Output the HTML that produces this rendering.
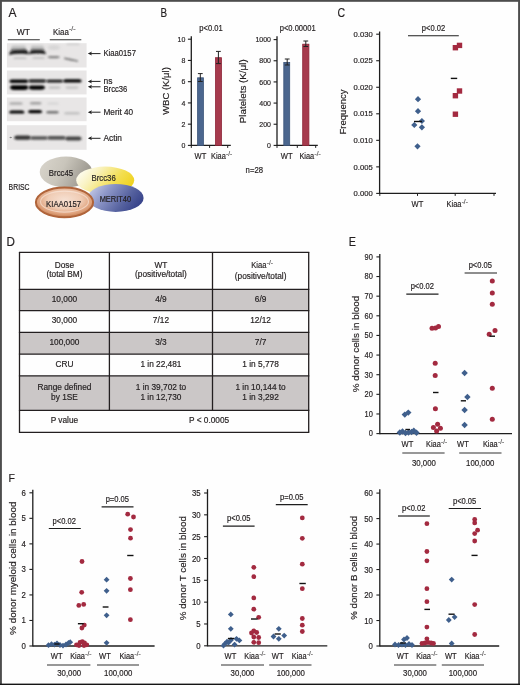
<!DOCTYPE html><html><head><meta charset="utf-8"><style>html,body{margin:0;padding:0;background:#fff;}svg{display:block;will-change:transform;}text{stroke:#231f20;stroke-width:0.18px;}</style></head><body>
<svg width="520" height="685" viewBox="0 0 520 685" font-family='"Liberation Sans", sans-serif'>
<defs>
<filter id="bl0" x="-20%" y="-100%" width="140%" height="300%"><feGaussianBlur stdDeviation="0.7"/></filter>
<linearGradient id="halo" x1="0" y1="0" x2="0" y2="1"><stop offset="0" stop-color="#dadada"/><stop offset="0.5" stop-color="#bcbcbc"/><stop offset="1" stop-color="#7a7a7a"/></linearGradient>
<filter id="bl1" x="-20%" y="-100%" width="140%" height="300%"><feGaussianBlur stdDeviation="1.0 0.9"/></filter>
<filter id="bl2" x="-20%" y="-100%" width="140%" height="300%"><feGaussianBlur stdDeviation="1.5 1.2"/></filter>
<linearGradient id="g45" x1="0" y1="0" x2="1" y2="0.3"><stop offset="0" stop-color="#dad6cd"/><stop offset="0.5" stop-color="#c9c5bb"/><stop offset="1" stop-color="#9c988f"/></linearGradient>
<linearGradient id="g36" x1="0" y1="0.2" x2="1" y2="0.6"><stop offset="0" stop-color="#fffffa"/><stop offset="0.3" stop-color="#f9f2c0"/><stop offset="0.7" stop-color="#f3de50"/><stop offset="1" stop-color="#efd21e"/></linearGradient>
<linearGradient id="gm40" x1="0" y1="0.1" x2="1" y2="0.5"><stop offset="0" stop-color="#cdd2ec"/><stop offset="0.35" stop-color="#8f98c9"/><stop offset="0.75" stop-color="#56629f"/><stop offset="1" stop-color="#3a468c"/></linearGradient>
<radialGradient id="gk" cx="0.5" cy="0.42" r="0.58"><stop offset="0" stop-color="#f6e0d2"/><stop offset="0.5" stop-color="#f0cdb6"/><stop offset="0.82" stop-color="#dea07a"/><stop offset="1" stop-color="#c47d50"/></radialGradient>
</defs>
<rect x="0" y="0" width="520" height="685" fill="#fefefe"/>
<text x="8.60" y="16.90" font-size="12" text-anchor="start" fill="#231f20" stroke="none">A</text>
<text x="23.40" y="34.60" font-size="8.5" text-anchor="middle" fill="#231f20" >WT</text>
<text x="53.05" y="34.60" font-size="9.14" fill="#231f20" textLength="15.73" lengthAdjust="spacingAndGlyphs">Kiaa</text>
<text x="69.08" y="30.95" font-size="6.85" fill="#8a8a8a" stroke="none">-/-</text>
<line x1="7.80" y1="39.70" x2="39.80" y2="39.70" stroke="#333" stroke-width="1.1"/>
<line x1="49.80" y1="39.70" x2="81.30" y2="39.70" stroke="#333" stroke-width="1.1"/>
<rect x="6.9" y="43.2" width="79.7" height="24.30" fill="#e8e6e6"/>
<rect x="6.9" y="70.5" width="79.7" height="23.90" fill="#e8e6e6"/>
<rect x="6.9" y="97.5" width="79.7" height="23.70" fill="#e8e6e6"/>
<rect x="6.9" y="125.2" width="79.7" height="24.60" fill="#e8e6e6"/>
<path d="M12 45 L25 44.8 L26.5 50.5 L10.5 51Z" fill="url(#halo)" filter="url(#bl1)"/>
<path d="M31.5 45 L43 44.8 L44.5 50.5 L30.5 50.8Z" fill="url(#halo)" filter="url(#bl1)"/>
<path d="M8.9 54.8 Q9.5 51.2 13.5 50.3 L24.5 49.8 Q28 50 28.9 54.2 Q26 53.6 20 53.8 Q14 54 8.9 54.8Z M28.9 54.2 Q29.6 50.6 33 50.1 L42 49.9 Q45.3 50.2 45.9 54.2 Q43 53.4 37.5 53.5 Q32 53.6 28.9 54.2Z" fill="#1c1c1c" filter="url(#bl1)"/>
<path d="M13.00 58.30 C14.00 57.50 15.00 57.50 17.00 57.50 L23.00 57.50 C25.00 57.50 26.00 57.50 27.00 58.30 C26.00 59.10 25.00 59.10 23.00 59.10 L17.00 59.10 C15.00 59.10 14.00 59.10 13.00 58.30Z" fill="#9a9a9a" opacity="0.6" filter="url(#bl1)"/>
<path d="M32.00 58.00 C33.00 57.20 34.00 57.20 36.00 57.20 L41.00 57.20 C43.00 57.20 44.00 57.20 45.00 58.00 C44.00 58.80 43.00 58.80 41.00 58.80 L36.00 58.80 C34.00 58.80 33.00 58.80 32.00 58.00Z" fill="#9a9a9a" opacity="0.6" filter="url(#bl1)"/>
<path d="M47.50 57.10 C48.50 55.90 49.50 55.90 51.50 55.90 L56.00 55.90 C58.00 55.90 59.00 55.90 60.00 57.10 C59.00 58.30 58.00 58.30 56.00 58.30 L51.50 58.30 C49.50 58.30 48.50 58.30 47.50 57.10Z" fill="#707070" opacity="0.85" filter="url(#bl1)"/>
<path d="M64.2 57.4 Q70 58.6 78 60.4 L78 61.8 Q70 60.2 64.2 58.9Z" fill="#6a6a6a" filter="url(#bl1)"/>
<path d="M48.00 47.50 C49.00 45.00 50.00 45.00 52.00 45.00 L56.00 45.00 C58.00 45.00 59.00 45.00 60.00 47.50 C59.00 50.00 58.00 50.00 56.00 50.00 L52.00 50.00 C50.00 50.00 49.00 50.00 48.00 47.50Z" fill="#c8c8c8" opacity="0.5" filter="url(#bl2)"/>
<path d="M66.00 44.40 C67.00 43.80 68.00 43.80 70.00 43.80 L76.00 43.80 C78.00 43.80 79.00 43.80 80.00 44.40 C79.00 45.00 78.00 45.00 76.00 45.00 L70.00 45.00 C68.00 45.00 67.00 45.00 66.00 44.40Z" fill="#b0b0b0" opacity="0.6" filter="url(#bl1)"/>
<path d="M9.10 81.30 C10.10 79.60 11.10 79.60 13.10 79.60 L24.50 79.60 C26.50 79.60 27.50 79.60 28.50 81.30 C27.50 83.00 26.50 83.00 24.50 83.00 L13.10 83.00 C11.10 83.00 10.10 83.00 9.10 81.30Z" fill="#000" opacity="1.0" filter="url(#bl1)"/>
<path d="M28.00 81.00 C29.00 79.55 30.00 79.55 32.00 79.55 L42.50 79.55 C44.50 79.55 45.50 79.55 46.50 81.00 C45.50 82.45 44.50 82.45 42.50 82.45 L32.00 82.45 C30.00 82.45 29.00 82.45 28.00 81.00Z" fill="#0a0a0a" opacity="1.0" filter="url(#bl1)"/>
<path d="M46.00 81.10 C47.00 79.65 48.00 79.65 50.00 79.65 L59.50 79.65 C61.50 79.65 62.50 79.65 63.50 81.10 C62.50 82.55 61.50 82.55 59.50 82.55 L50.00 82.55 C48.00 82.55 47.00 82.55 46.00 81.10Z" fill="#0e0e0e" opacity="1.0" filter="url(#bl1)"/>
<path d="M63.00 80.90 C64.00 79.20 65.00 79.20 67.00 79.20 L77.80 79.20 C79.80 79.20 80.80 79.20 81.80 80.90 C80.80 82.60 79.80 82.60 77.80 82.60 L67.00 82.60 C65.00 82.60 64.00 82.60 63.00 80.90Z" fill="#000" opacity="1.0" filter="url(#bl1)"/>
<path d="M9.90 87.60 C10.90 85.30 11.90 85.30 13.90 85.30 L24.50 85.30 C26.50 85.30 27.50 85.30 28.50 87.60 C27.50 89.90 26.50 89.90 24.50 89.90 L13.90 89.90 C11.90 89.90 10.90 89.90 9.90 87.60Z" fill="#000" opacity="1.0" filter="url(#bl1)"/>
<path d="M28.50 87.60 C29.50 85.50 30.50 85.50 32.50 85.50 L41.20 85.50 C43.20 85.50 44.20 85.50 45.20 87.60 C44.20 89.70 43.20 89.70 41.20 89.70 L32.50 89.70 C30.50 89.70 29.50 89.70 28.50 87.60Z" fill="#000" opacity="1.0" filter="url(#bl1)"/>
<path d="M48.00 87.60 C49.00 86.20 50.00 86.20 52.00 86.20 L57.00 86.20 C59.00 86.20 60.00 86.20 61.00 87.60 C60.00 89.00 59.00 89.00 57.00 89.00 L52.00 89.00 C50.00 89.00 49.00 89.00 48.00 87.60Z" fill="#aaa" opacity="0.6" filter="url(#bl1)"/>
<path d="M65.00 87.60 C66.00 86.20 67.00 86.20 69.00 86.20 L75.00 86.20 C77.00 86.20 78.00 86.20 79.00 87.60 C78.00 89.00 77.00 89.00 75.00 89.00 L69.00 89.00 C67.00 89.00 66.00 89.00 65.00 87.60Z" fill="#b0b0b0" opacity="0.6" filter="url(#bl1)"/>
<path d="M9.00 103.50 C10.00 102.20 11.00 102.20 13.00 102.20 L19.00 102.20 C21.00 102.20 22.00 102.20 23.00 103.50 C22.00 104.80 21.00 104.80 19.00 104.80 L13.00 104.80 C11.00 104.80 10.00 104.80 9.00 103.50Z" fill="#8c8c8c" opacity="0.65" filter="url(#bl1)"/>
<path d="M29.50 103.30 C30.50 102.00 31.50 102.00 33.50 102.00 L37.80 102.00 C39.80 102.00 40.80 102.00 41.80 103.30 C40.80 104.60 39.80 104.60 37.80 104.60 L33.50 104.60 C31.50 104.60 30.50 104.60 29.50 103.30Z" fill="#808080" opacity="0.7" filter="url(#bl1)"/>
<path d="M47.00 103.50 C48.00 102.40 49.00 102.40 51.00 102.40 L55.00 102.40 C57.00 102.40 58.00 102.40 59.00 103.50 C58.00 104.60 57.00 104.60 55.00 104.60 L51.00 104.60 C49.00 104.60 48.00 104.60 47.00 103.50Z" fill="#c0c0c0" opacity="0.5" filter="url(#bl1)"/>
<path d="M9.00 112.40 C10.00 110.50 11.00 110.50 13.00 110.50 L20.60 110.50 C22.60 110.50 23.60 110.50 24.60 112.40 C23.60 113.50 22.60 113.50 20.60 113.50 L13.00 113.50 C11.00 113.50 10.00 113.50 9.00 112.40Z" fill="#000" opacity="1.0" filter="url(#bl1)"/>
<path d="M27.90 112.00 C28.90 110.00 29.90 110.00 31.90 110.00 L38.30 110.00 C40.30 110.00 41.30 110.00 42.30 112.00 C41.30 113.20 40.30 113.20 38.30 113.20 L31.90 113.20 C29.90 113.20 28.90 113.20 27.90 112.00Z" fill="#000" opacity="1.0" filter="url(#bl1)"/>
<path d="M45.90 112.20 C46.90 110.90 47.90 110.90 49.90 110.90 L55.00 110.90 C57.00 110.90 58.00 110.90 59.00 112.20 C58.00 113.50 57.00 113.50 55.00 113.50 L49.90 113.50 C47.90 113.50 46.90 113.50 45.90 112.20Z" fill="#5a5a5a" opacity="0.85" filter="url(#bl1)"/>
<path d="M63.80 113.30 C64.80 112.00 65.80 112.00 67.80 112.00 L76.20 112.00 C78.20 112.00 79.20 112.00 80.20 113.30 C79.20 114.60 78.20 114.60 76.20 114.60 L67.80 114.60 C65.80 114.60 64.80 114.60 63.80 113.30Z" fill="#b4b4b4" opacity="0.75" filter="url(#bl1)"/>
<ellipse cx="10.7" cy="137.5" rx="1.2" ry="0.7" fill="#888" filter="url(#bl0)"/>
<path d="M14.00 137.90 C15.00 135.50 16.00 135.50 18.00 135.50 L27.00 135.50 C29.00 135.50 30.00 135.50 31.00 137.90 C30.00 139.70 29.00 139.70 27.00 139.70 L18.00 139.70 C16.00 139.70 15.00 139.70 14.00 137.90Z" fill="#2a2a2a" opacity="0.95" filter="url(#bl1)"/>
<path d="M30.00 138.00 C31.00 136.30 32.00 136.30 34.00 136.30 L44.00 136.30 C46.00 136.30 47.00 136.30 48.00 138.00 C47.00 139.70 46.00 139.70 44.00 139.70 L34.00 139.70 C32.00 139.70 31.00 139.70 30.00 138.00Z" fill="#444" opacity="0.9" filter="url(#bl1)"/>
<path d="M47.00 137.90 C48.00 136.10 49.00 136.10 51.00 136.10 L62.00 136.10 C64.00 136.10 65.00 136.10 66.00 137.90 C65.00 139.70 64.00 139.70 62.00 139.70 L51.00 139.70 C49.00 139.70 48.00 139.70 47.00 137.90Z" fill="#424242" opacity="0.9" filter="url(#bl1)"/>
<path d="M65.00 138.70 C66.00 136.40 67.00 136.40 69.00 136.40 L77.80 136.40 C79.80 136.40 80.80 136.40 81.80 138.70 C80.80 140.40 79.80 140.40 77.80 140.40 L69.00 140.40 C67.00 140.40 66.00 140.40 65.00 138.70Z" fill="#363636" opacity="0.92" filter="url(#bl1)"/>
<line x1="89.80" y1="53.60" x2="100.50" y2="53.60" stroke="#222" stroke-width="1.0"/>
<path d="M87.80 53.60L92.00 51.60L91.00 53.60L92.00 55.60Z" fill="#222"/>
<line x1="89.80" y1="81.40" x2="100.50" y2="81.40" stroke="#222" stroke-width="1.0"/>
<path d="M87.80 81.40L92.00 79.40L91.00 81.40L92.00 83.40Z" fill="#222"/>
<line x1="89.80" y1="86.80" x2="100.50" y2="86.80" stroke="#222" stroke-width="1.0"/>
<path d="M87.80 86.80L92.00 84.80L91.00 86.80L92.00 88.80Z" fill="#222"/>
<line x1="89.80" y1="112.20" x2="100.50" y2="112.20" stroke="#222" stroke-width="1.0"/>
<path d="M87.80 112.20L92.00 110.20L91.00 112.20L92.00 114.20Z" fill="#222"/>
<line x1="89.80" y1="138.30" x2="100.50" y2="138.30" stroke="#222" stroke-width="1.0"/>
<path d="M87.80 138.30L92.00 136.30L91.00 138.30L92.00 140.30Z" fill="#222"/>
<text x="103.50" y="56.30" font-size="8.5" text-anchor="start" fill="#231f20" textLength="32.4" lengthAdjust="spacingAndGlyphs" >Kiaa0157</text>
<text x="103.50" y="83.50" font-size="8.5" text-anchor="start" fill="#231f20" >ns</text>
<text x="103.50" y="91.60" font-size="8.5" text-anchor="start" fill="#231f20" textLength="23.9" lengthAdjust="spacingAndGlyphs" >Brcc36</text>
<text x="103.50" y="115.30" font-size="8.5" text-anchor="start" fill="#231f20" textLength="29.7" lengthAdjust="spacingAndGlyphs" >Merit 40</text>
<text x="103.50" y="141.30" font-size="8.5" text-anchor="start" fill="#231f20" textLength="18.5" lengthAdjust="spacingAndGlyphs" >Actin</text>
<text x="8.60" y="189.80" font-size="8.4" text-anchor="start" fill="#231f20" textLength="21" lengthAdjust="spacingAndGlyphs" >BRISC</text>
<ellipse cx="66" cy="172" rx="26.3" ry="15.5" fill="url(#g45)"/>
<ellipse cx="105.2" cy="180.2" rx="29" ry="13.6" fill="url(#g36)"/>
<ellipse cx="115.7" cy="197.9" rx="27.9" ry="14.0" fill="url(#gm40)"/>
<ellipse cx="64.5" cy="202.3" rx="28.6" ry="14.9" fill="url(#gk)" stroke="#b0643a" stroke-width="2.0"/>
<ellipse cx="64.5" cy="201.6" rx="24" ry="10.5" fill="none" stroke="#fbeee6" stroke-width="1.2" opacity="0.55"/>
<text x="61.00" y="176.20" font-size="8.4" text-anchor="middle" fill="#231f20" textLength="24.3" lengthAdjust="spacingAndGlyphs" >Brcc45</text>
<text x="103.60" y="181.00" font-size="8.4" text-anchor="middle" fill="#231f20" textLength="24.3" lengthAdjust="spacingAndGlyphs" >Brcc36</text>
<text x="115.40" y="201.90" font-size="8.4" text-anchor="middle" fill="#231f20" textLength="31.5" lengthAdjust="spacingAndGlyphs" >MERIT40</text>
<text x="63.60" y="206.50" font-size="8.4" text-anchor="middle" fill="#231f20" textLength="35" lengthAdjust="spacingAndGlyphs" >KIAA0157</text>
<text x="160.50" y="17.00" font-size="12" text-anchor="start" fill="#231f20" textLength="6.6" lengthAdjust="spacingAndGlyphs" stroke="none">B</text>
<line x1="191.30" y1="36.20" x2="191.30" y2="146.00" stroke="#1e1e1e" stroke-width="1.3"/>
<line x1="187.90" y1="145.40" x2="191.30" y2="145.40" stroke="#1e1e1e" stroke-width="1.1"/>
<text x="185.30" y="148.02" font-size="7.6" text-anchor="end" fill="#231f20" textLength="3.89" lengthAdjust="spacingAndGlyphs" >0</text>
<line x1="187.90" y1="124.16" x2="191.30" y2="124.16" stroke="#1e1e1e" stroke-width="1.1"/>
<text x="185.30" y="126.78" font-size="7.6" text-anchor="end" fill="#231f20" textLength="3.89" lengthAdjust="spacingAndGlyphs" >2</text>
<line x1="187.90" y1="102.92" x2="191.30" y2="102.92" stroke="#1e1e1e" stroke-width="1.1"/>
<text x="185.30" y="105.54" font-size="7.6" text-anchor="end" fill="#231f20" textLength="3.89" lengthAdjust="spacingAndGlyphs" >4</text>
<line x1="187.90" y1="81.68" x2="191.30" y2="81.68" stroke="#1e1e1e" stroke-width="1.1"/>
<text x="185.30" y="84.30" font-size="7.6" text-anchor="end" fill="#231f20" textLength="3.89" lengthAdjust="spacingAndGlyphs" >6</text>
<line x1="187.90" y1="60.44" x2="191.30" y2="60.44" stroke="#1e1e1e" stroke-width="1.1"/>
<text x="185.30" y="63.06" font-size="7.6" text-anchor="end" fill="#231f20" textLength="3.89" lengthAdjust="spacingAndGlyphs" >8</text>
<line x1="187.90" y1="39.20" x2="191.30" y2="39.20" stroke="#1e1e1e" stroke-width="1.1"/>
<text x="185.30" y="41.82" font-size="7.6" text-anchor="end" fill="#231f20" textLength="7.78" lengthAdjust="spacingAndGlyphs" >10</text>
<line x1="191.30" y1="145.40" x2="230.80" y2="145.40" stroke="#1e1e1e" stroke-width="1.3"/>
<line x1="191.30" y1="145.40" x2="191.30" y2="147.90" stroke="#1e1e1e" stroke-width="1.0"/>
<line x1="209.60" y1="145.40" x2="209.60" y2="147.90" stroke="#1e1e1e" stroke-width="1.0"/>
<line x1="227.70" y1="145.40" x2="227.70" y2="147.90" stroke="#1e1e1e" stroke-width="1.0"/>
<rect x="197.6" y="77.8" width="5.8" height="67.60" fill="#4b668e" stroke="#3b5479" stroke-width="0.8"/>
<rect x="215.5" y="57.7" width="6.0" height="87.70" fill="#a63a4d" stroke="#8e2538" stroke-width="0.8"/>
<line x1="200.30" y1="73.60" x2="200.30" y2="81.50" stroke="#222" stroke-width="1.0"/>
<line x1="197.90" y1="73.60" x2="202.70" y2="73.60" stroke="#222" stroke-width="1.0"/>
<line x1="197.90" y1="81.50" x2="202.70" y2="81.50" stroke="#222" stroke-width="1.0"/>
<line x1="218.40" y1="51.40" x2="218.40" y2="63.60" stroke="#222" stroke-width="1.0"/>
<line x1="216.00" y1="51.40" x2="220.80" y2="51.40" stroke="#222" stroke-width="1.0"/>
<line x1="216.00" y1="63.60" x2="220.80" y2="63.60" stroke="#222" stroke-width="1.0"/>
<text x="211.00" y="31.00" font-size="8.4" text-anchor="middle" fill="#231f20" textLength="23.33" lengthAdjust="spacingAndGlyphs" >p&lt;0.01</text>
<text x="200.40" y="159.00" font-size="8.6" text-anchor="middle" fill="#231f20" textLength="11.77" lengthAdjust="spacingAndGlyphs" >WT</text>
<text x="211.00" y="159.00" font-size="8.60" fill="#231f20" textLength="14.80" lengthAdjust="spacingAndGlyphs">Kiaa</text>
<text x="226.11" y="155.56" font-size="6.45" fill="#8a8a8a" stroke="none">-/-</text>
<text x="0" y="0" font-size="9.5" text-anchor="middle" fill="#231f20" transform="translate(169.42,91.00) rotate(-90)">WBC (K/μl)</text>
<line x1="277.00" y1="36.20" x2="277.00" y2="146.00" stroke="#1e1e1e" stroke-width="1.3"/>
<line x1="273.60" y1="145.40" x2="277.00" y2="145.40" stroke="#1e1e1e" stroke-width="1.1"/>
<text x="271.00" y="148.02" font-size="7.6" text-anchor="end" fill="#231f20" textLength="3.89" lengthAdjust="spacingAndGlyphs" >0</text>
<line x1="273.60" y1="124.24" x2="277.00" y2="124.24" stroke="#1e1e1e" stroke-width="1.1"/>
<text x="271.00" y="126.86" font-size="7.6" text-anchor="end" fill="#231f20" textLength="11.66" lengthAdjust="spacingAndGlyphs" >200</text>
<line x1="273.60" y1="103.08" x2="277.00" y2="103.08" stroke="#1e1e1e" stroke-width="1.1"/>
<text x="271.00" y="105.70" font-size="7.6" text-anchor="end" fill="#231f20" textLength="11.66" lengthAdjust="spacingAndGlyphs" >400</text>
<line x1="273.60" y1="81.92" x2="277.00" y2="81.92" stroke="#1e1e1e" stroke-width="1.1"/>
<text x="271.00" y="84.54" font-size="7.6" text-anchor="end" fill="#231f20" textLength="11.66" lengthAdjust="spacingAndGlyphs" >600</text>
<line x1="273.60" y1="60.76" x2="277.00" y2="60.76" stroke="#1e1e1e" stroke-width="1.1"/>
<text x="271.00" y="63.38" font-size="7.6" text-anchor="end" fill="#231f20" textLength="11.66" lengthAdjust="spacingAndGlyphs" >800</text>
<line x1="273.60" y1="39.60" x2="277.00" y2="39.60" stroke="#1e1e1e" stroke-width="1.1"/>
<text x="271.00" y="42.22" font-size="7.6" text-anchor="end" fill="#231f20" textLength="15.55" lengthAdjust="spacingAndGlyphs" >1000</text>
<line x1="277.00" y1="145.40" x2="317.80" y2="145.40" stroke="#1e1e1e" stroke-width="1.3"/>
<line x1="277.00" y1="145.40" x2="277.00" y2="147.90" stroke="#1e1e1e" stroke-width="1.0"/>
<line x1="297.30" y1="145.40" x2="297.30" y2="147.90" stroke="#1e1e1e" stroke-width="1.0"/>
<line x1="315.70" y1="145.40" x2="315.70" y2="147.90" stroke="#1e1e1e" stroke-width="1.0"/>
<rect x="283.8" y="62.4" width="5.9" height="83.00" fill="#4b668e" stroke="#3b5479" stroke-width="0.8"/>
<rect x="302.7" y="44.2" width="6.2" height="101.20" fill="#a63a4d" stroke="#8e2538" stroke-width="0.8"/>
<line x1="287.20" y1="59.00" x2="287.20" y2="65.00" stroke="#222" stroke-width="1.0"/>
<line x1="284.80" y1="59.00" x2="289.60" y2="59.00" stroke="#222" stroke-width="1.0"/>
<line x1="284.80" y1="65.00" x2="289.60" y2="65.00" stroke="#222" stroke-width="1.0"/>
<line x1="305.80" y1="41.00" x2="305.80" y2="46.50" stroke="#222" stroke-width="1.0"/>
<line x1="303.40" y1="41.00" x2="308.20" y2="41.00" stroke="#222" stroke-width="1.0"/>
<line x1="303.40" y1="46.50" x2="308.20" y2="46.50" stroke="#222" stroke-width="1.0"/>
<text x="297.70" y="31.00" font-size="8.4" text-anchor="middle" fill="#231f20" textLength="35.95" lengthAdjust="spacingAndGlyphs" >p&lt;0.00001</text>
<text x="286.70" y="159.00" font-size="8.6" text-anchor="middle" fill="#231f20" textLength="11.77" lengthAdjust="spacingAndGlyphs" >WT</text>
<text x="299.40" y="159.00" font-size="8.60" fill="#231f20" textLength="14.80" lengthAdjust="spacingAndGlyphs">Kiaa</text>
<text x="314.51" y="155.56" font-size="6.45" fill="#8a8a8a" stroke="none">-/-</text>
<text x="0" y="0" font-size="9.8" text-anchor="middle" fill="#231f20" transform="translate(246.13,91.30) rotate(-90)">Platelets (K/μl)</text>
<text x="254.30" y="173.30" font-size="8.6" text-anchor="middle" fill="#231f20" textLength="17.43" lengthAdjust="spacingAndGlyphs" >n=28</text>
<text x="337.60" y="17.20" font-size="12.5" text-anchor="start" fill="#231f20" textLength="7.6" lengthAdjust="spacingAndGlyphs" stroke="none">C</text>
<line x1="379.60" y1="31.50" x2="379.60" y2="194.00" stroke="#1e1e1e" stroke-width="1.3"/>
<line x1="376.20" y1="193.40" x2="379.60" y2="193.40" stroke="#1e1e1e" stroke-width="1.1"/>
<text x="372.70" y="196.09" font-size="7.8" text-anchor="end" fill="#231f20" textLength="19.13" lengthAdjust="spacingAndGlyphs" >0.000</text>
<line x1="376.20" y1="166.87" x2="379.60" y2="166.87" stroke="#1e1e1e" stroke-width="1.1"/>
<text x="372.70" y="169.56" font-size="7.8" text-anchor="end" fill="#231f20" textLength="19.13" lengthAdjust="spacingAndGlyphs" >0.005</text>
<line x1="376.20" y1="140.33" x2="379.60" y2="140.33" stroke="#1e1e1e" stroke-width="1.1"/>
<text x="372.70" y="143.03" font-size="7.8" text-anchor="end" fill="#231f20" textLength="19.13" lengthAdjust="spacingAndGlyphs" >0.010</text>
<line x1="376.20" y1="113.80" x2="379.60" y2="113.80" stroke="#1e1e1e" stroke-width="1.1"/>
<text x="372.70" y="116.49" font-size="7.8" text-anchor="end" fill="#231f20" textLength="19.13" lengthAdjust="spacingAndGlyphs" >0.015</text>
<line x1="376.20" y1="87.27" x2="379.60" y2="87.27" stroke="#1e1e1e" stroke-width="1.1"/>
<text x="372.70" y="89.96" font-size="7.8" text-anchor="end" fill="#231f20" textLength="19.13" lengthAdjust="spacingAndGlyphs" >0.020</text>
<line x1="376.20" y1="60.73" x2="379.60" y2="60.73" stroke="#1e1e1e" stroke-width="1.1"/>
<text x="372.70" y="63.43" font-size="7.8" text-anchor="end" fill="#231f20" textLength="19.13" lengthAdjust="spacingAndGlyphs" >0.025</text>
<line x1="376.20" y1="34.20" x2="379.60" y2="34.20" stroke="#1e1e1e" stroke-width="1.1"/>
<text x="372.70" y="36.89" font-size="7.8" text-anchor="end" fill="#231f20" textLength="19.13" lengthAdjust="spacingAndGlyphs" >0.030</text>
<line x1="379.60" y1="193.40" x2="496.00" y2="193.40" stroke="#1e1e1e" stroke-width="1.3"/>
<line x1="379.80" y1="193.40" x2="379.80" y2="195.90" stroke="#1e1e1e" stroke-width="1.0"/>
<line x1="417.50" y1="193.40" x2="417.50" y2="195.90" stroke="#1e1e1e" stroke-width="1.0"/>
<line x1="455.20" y1="193.40" x2="455.20" y2="195.90" stroke="#1e1e1e" stroke-width="1.0"/>
<line x1="494.00" y1="193.40" x2="494.00" y2="195.90" stroke="#1e1e1e" stroke-width="1.0"/>
<line x1="408.00" y1="35.70" x2="458.80" y2="35.70" stroke="#1e1e1e" stroke-width="1.1"/>
<text x="433.50" y="30.80" font-size="8.4" text-anchor="middle" fill="#231f20" textLength="23.33" lengthAdjust="spacingAndGlyphs" >p&lt;0.02</text>
<path d="M414.90 99.20L418.00 96.10L421.10 99.20L418.00 102.30Z" fill="#3f5f8c"/>
<path d="M414.90 111.20L418.00 108.10L421.10 111.20L418.00 114.30Z" fill="#3f5f8c"/>
<path d="M418.80 121.00L421.90 117.90L425.00 121.00L421.90 124.10Z" fill="#3f5f8c"/>
<path d="M411.20 125.00L414.30 121.90L417.40 125.00L414.30 128.10Z" fill="#3f5f8c"/>
<path d="M418.80 127.30L421.90 124.20L425.00 127.30L421.90 130.40Z" fill="#3f5f8c"/>
<path d="M414.40 146.30L417.50 143.20L420.60 146.30L417.50 149.40Z" fill="#3f5f8c"/>
<line x1="414.00" y1="121.50" x2="422.00" y2="121.50" stroke="#111" stroke-width="1.4"/>
<rect x="452.70" y="45.00" width="5.4" height="5.4" fill="#a32a40"/>
<rect x="456.80" y="42.70" width="5.4" height="5.4" fill="#a32a40"/>
<rect x="452.70" y="93.00" width="5.4" height="5.4" fill="#a32a40"/>
<rect x="456.80" y="88.30" width="5.4" height="5.4" fill="#a32a40"/>
<rect x="452.70" y="111.50" width="5.4" height="5.4" fill="#a32a40"/>
<line x1="450.80" y1="78.40" x2="457.20" y2="78.40" stroke="#111" stroke-width="1.4"/>
<text x="417.50" y="207.30" font-size="8.6" text-anchor="middle" fill="#231f20" textLength="11.77" lengthAdjust="spacingAndGlyphs" >WT</text>
<text x="446.60" y="207.30" font-size="8.60" fill="#231f20" textLength="14.80" lengthAdjust="spacingAndGlyphs">Kiaa</text>
<text x="461.71" y="203.86" font-size="6.45" fill="#8a8a8a" stroke="none">-/-</text>
<text x="0" y="0" font-size="9.5" text-anchor="middle" fill="#231f20" transform="translate(346.42,112.00) rotate(-90)">Frequency</text>
<text x="6.60" y="245.80" font-size="12" text-anchor="start" fill="#231f20" textLength="8.4" lengthAdjust="spacingAndGlyphs" stroke="none">D</text>
<rect x="19.5" y="289.3" width="289.20" height="21.30" fill="#cbc7c7"/>
<rect x="19.5" y="332.3" width="289.20" height="21.90" fill="#cbc7c7"/>
<rect x="19.5" y="375.8" width="289.20" height="34.50" fill="#cbc7c7"/>
<line x1="18.90" y1="252.30" x2="309.30" y2="252.30" stroke="#231f20" stroke-width="1.3"/>
<line x1="18.90" y1="289.30" x2="309.30" y2="289.30" stroke="#231f20" stroke-width="1.3"/>
<line x1="18.90" y1="310.60" x2="309.30" y2="310.60" stroke="#231f20" stroke-width="1.3"/>
<line x1="18.90" y1="332.30" x2="309.30" y2="332.30" stroke="#231f20" stroke-width="1.3"/>
<line x1="18.90" y1="354.20" x2="309.30" y2="354.20" stroke="#231f20" stroke-width="1.3"/>
<line x1="18.90" y1="375.80" x2="309.30" y2="375.80" stroke="#231f20" stroke-width="1.3"/>
<line x1="18.90" y1="410.30" x2="309.30" y2="410.30" stroke="#231f20" stroke-width="1.3"/>
<line x1="18.90" y1="432.30" x2="309.30" y2="432.30" stroke="#231f20" stroke-width="1.3"/>
<line x1="19.50" y1="252.30" x2="19.50" y2="432.30" stroke="#231f20" stroke-width="1.3"/>
<line x1="109.40" y1="252.30" x2="109.40" y2="410.30" stroke="#231f20" stroke-width="1.3"/>
<line x1="212.50" y1="252.30" x2="212.50" y2="410.30" stroke="#231f20" stroke-width="1.3"/>
<line x1="308.70" y1="252.30" x2="308.70" y2="432.30" stroke="#231f20" stroke-width="1.3"/>
<text x="64.45" y="267.79" font-size="8.3" text-anchor="middle" fill="#231f20" >Dose</text>
<text x="64.45" y="277.19" font-size="8.3" text-anchor="middle" fill="#231f20" >(total BM)</text>
<text x="160.95" y="267.79" font-size="8.3" text-anchor="middle" fill="#231f20" >WT</text>
<text x="160.95" y="277.19" font-size="8.3" text-anchor="middle" fill="#231f20" >(positive/total)</text>
<text x="251.24" y="268.20" font-size="8.81" fill="#231f20" textLength="15.17" lengthAdjust="spacingAndGlyphs">Kiaa</text>
<text x="266.72" y="264.67" font-size="6.61" fill="#8a8a8a" stroke="none">-/-</text>
<text x="260.60" y="278.70" font-size="8.3" text-anchor="middle" fill="#231f20" >(positive/total)</text>
<text x="64.45" y="301.94" font-size="8.3" text-anchor="middle" fill="#231f20" >10,000</text>
<text x="160.95" y="301.94" font-size="8.3" text-anchor="middle" fill="#231f20" >4/9</text>
<text x="260.60" y="301.94" font-size="8.3" text-anchor="middle" fill="#231f20" >6/9</text>
<text x="64.45" y="323.44" font-size="8.3" text-anchor="middle" fill="#231f20" >30,000</text>
<text x="160.95" y="323.44" font-size="8.3" text-anchor="middle" fill="#231f20" >7/12</text>
<text x="260.60" y="323.44" font-size="8.3" text-anchor="middle" fill="#231f20" >12/12</text>
<text x="64.45" y="345.24" font-size="8.3" text-anchor="middle" fill="#231f20" >100,000</text>
<text x="160.95" y="345.24" font-size="8.3" text-anchor="middle" fill="#231f20" >3/3</text>
<text x="260.60" y="345.24" font-size="8.3" text-anchor="middle" fill="#231f20" >7/7</text>
<text x="64.45" y="366.99" font-size="8.3" text-anchor="middle" fill="#231f20" >CRU</text>
<text x="160.95" y="366.99" font-size="8.3" text-anchor="middle" fill="#231f20" >1 in 22,481</text>
<text x="260.60" y="366.99" font-size="8.3" text-anchor="middle" fill="#231f20" >1 in 5,778</text>
<text x="64.45" y="390.34" font-size="8.3" text-anchor="middle" fill="#231f20" >Range defined</text>
<text x="64.45" y="399.74" font-size="8.3" text-anchor="middle" fill="#231f20" >by 1SE</text>
<text x="160.95" y="390.34" font-size="8.3" text-anchor="middle" fill="#231f20" >1 in 39,702 to</text>
<text x="160.95" y="399.74" font-size="8.3" text-anchor="middle" fill="#231f20" >1 in 12,730</text>
<text x="260.60" y="390.34" font-size="8.3" text-anchor="middle" fill="#231f20" >1 in 10,144 to</text>
<text x="260.60" y="399.74" font-size="8.3" text-anchor="middle" fill="#231f20" >1 in 3,292</text>
<text x="64.45" y="423.29" font-size="8.3" text-anchor="middle" fill="#231f20" >P value</text>
<text x="209.05" y="423.29" font-size="8.3" text-anchor="middle" fill="#231f20" >P &lt; 0.0005</text>
<text x="348.80" y="245.80" font-size="12" text-anchor="start" fill="#231f20" textLength="7.2" lengthAdjust="spacingAndGlyphs" stroke="none">E</text>
<line x1="379.80" y1="254.00" x2="379.80" y2="434.20" stroke="#1e1e1e" stroke-width="1.3"/>
<line x1="376.40" y1="433.60" x2="379.80" y2="433.60" stroke="#1e1e1e" stroke-width="1.1"/>
<text x="372.90" y="436.47" font-size="8.3" text-anchor="end" fill="#231f20" textLength="4.15" lengthAdjust="spacingAndGlyphs" >0</text>
<line x1="376.40" y1="413.97" x2="379.80" y2="413.97" stroke="#1e1e1e" stroke-width="1.1"/>
<text x="372.90" y="416.84" font-size="8.3" text-anchor="end" fill="#231f20" textLength="8.31" lengthAdjust="spacingAndGlyphs" >10</text>
<line x1="376.40" y1="394.33" x2="379.80" y2="394.33" stroke="#1e1e1e" stroke-width="1.1"/>
<text x="372.90" y="397.20" font-size="8.3" text-anchor="end" fill="#231f20" textLength="8.31" lengthAdjust="spacingAndGlyphs" >20</text>
<line x1="376.40" y1="374.70" x2="379.80" y2="374.70" stroke="#1e1e1e" stroke-width="1.1"/>
<text x="372.90" y="377.57" font-size="8.3" text-anchor="end" fill="#231f20" textLength="8.31" lengthAdjust="spacingAndGlyphs" >30</text>
<line x1="376.40" y1="355.07" x2="379.80" y2="355.07" stroke="#1e1e1e" stroke-width="1.1"/>
<text x="372.90" y="357.94" font-size="8.3" text-anchor="end" fill="#231f20" textLength="8.31" lengthAdjust="spacingAndGlyphs" >40</text>
<line x1="376.40" y1="335.43" x2="379.80" y2="335.43" stroke="#1e1e1e" stroke-width="1.1"/>
<text x="372.90" y="338.30" font-size="8.3" text-anchor="end" fill="#231f20" textLength="8.31" lengthAdjust="spacingAndGlyphs" >50</text>
<line x1="376.40" y1="315.80" x2="379.80" y2="315.80" stroke="#1e1e1e" stroke-width="1.1"/>
<text x="372.90" y="318.67" font-size="8.3" text-anchor="end" fill="#231f20" textLength="8.31" lengthAdjust="spacingAndGlyphs" >60</text>
<line x1="376.40" y1="296.17" x2="379.80" y2="296.17" stroke="#1e1e1e" stroke-width="1.1"/>
<text x="372.90" y="299.04" font-size="8.3" text-anchor="end" fill="#231f20" textLength="8.31" lengthAdjust="spacingAndGlyphs" >70</text>
<line x1="376.40" y1="276.53" x2="379.80" y2="276.53" stroke="#1e1e1e" stroke-width="1.1"/>
<text x="372.90" y="279.40" font-size="8.3" text-anchor="end" fill="#231f20" textLength="8.31" lengthAdjust="spacingAndGlyphs" >80</text>
<line x1="376.40" y1="256.90" x2="379.80" y2="256.90" stroke="#1e1e1e" stroke-width="1.1"/>
<text x="372.90" y="259.77" font-size="8.3" text-anchor="end" fill="#231f20" textLength="8.31" lengthAdjust="spacingAndGlyphs" >90</text>
<line x1="379.80" y1="433.60" x2="512.00" y2="433.60" stroke="#1e1e1e" stroke-width="1.3"/>
<line x1="406.30" y1="294.20" x2="438.50" y2="294.20" stroke="#1e1e1e" stroke-width="1.2"/>
<text x="422.30" y="289.30" font-size="8.4" text-anchor="middle" fill="#231f20" textLength="23.33" lengthAdjust="spacingAndGlyphs" >p&lt;0.02</text>
<line x1="464.60" y1="273.00" x2="497.00" y2="273.00" stroke="#1e1e1e" stroke-width="1.2"/>
<text x="480.30" y="268.20" font-size="8.4" text-anchor="middle" fill="#231f20" textLength="23.33" lengthAdjust="spacingAndGlyphs" >p&lt;0.05</text>
<path d="M401.60 414.60L404.80 411.40L408.00 414.60L404.80 417.80Z" fill="#3f5f8c"/>
<path d="M405.10 412.60L408.30 409.40L411.50 412.60L408.30 415.80Z" fill="#3f5f8c"/>
<path d="M396.60 432.50L399.80 429.30L403.00 432.50L399.80 435.70Z" fill="#3f5f8c"/>
<path d="M399.30 431.50L402.50 428.30L405.70 431.50L402.50 434.70Z" fill="#3f5f8c"/>
<path d="M402.30 433.00L405.50 429.80L408.70 433.00L405.50 436.20Z" fill="#3f5f8c"/>
<path d="M405.30 432.50L408.50 429.30L411.70 432.50L408.50 435.70Z" fill="#3f5f8c"/>
<path d="M408.30 432.00L411.50 428.80L414.70 432.00L411.50 435.20Z" fill="#3f5f8c"/>
<path d="M410.60 430.80L413.80 427.60L417.00 430.80L413.80 434.00Z" fill="#3f5f8c"/>
<path d="M413.30 432.80L416.50 429.60L419.70 432.80L416.50 436.00Z" fill="#3f5f8c"/>
<line x1="405.40" y1="429.50" x2="410.00" y2="429.50" stroke="#111" stroke-width="1.4"/>
<circle cx="432.00" cy="328.20" r="2.5" fill="#a32a40"/>
<circle cx="435.50" cy="328.00" r="2.5" fill="#a32a40"/>
<circle cx="438.50" cy="326.50" r="2.5" fill="#a32a40"/>
<circle cx="435.20" cy="363.30" r="2.5" fill="#a32a40"/>
<circle cx="435.20" cy="375.40" r="2.5" fill="#a32a40"/>
<circle cx="435.40" cy="408.80" r="2.5" fill="#a32a40"/>
<circle cx="433.40" cy="427.40" r="2.5" fill="#a32a40"/>
<circle cx="437.60" cy="424.30" r="2.5" fill="#a32a40"/>
<circle cx="440.40" cy="428.20" r="2.5" fill="#a32a40"/>
<circle cx="436.60" cy="431.00" r="2.5" fill="#a32a40"/>
<line x1="433.00" y1="392.50" x2="438.50" y2="392.50" stroke="#111" stroke-width="1.4"/>
<path d="M461.40 373.00L464.60 369.80L467.80 373.00L464.60 376.20Z" fill="#3f5f8c"/>
<path d="M464.20 397.00L467.40 393.80L470.60 397.00L467.40 400.20Z" fill="#3f5f8c"/>
<path d="M461.40 410.00L464.60 406.80L467.80 410.00L464.60 413.20Z" fill="#3f5f8c"/>
<path d="M461.40 425.00L464.60 421.80L467.80 425.00L464.60 428.20Z" fill="#3f5f8c"/>
<line x1="460.80" y1="400.80" x2="466.00" y2="400.80" stroke="#111" stroke-width="1.4"/>
<circle cx="492.30" cy="281.00" r="2.5" fill="#a32a40"/>
<circle cx="492.30" cy="293.00" r="2.5" fill="#a32a40"/>
<circle cx="492.30" cy="304.30" r="2.5" fill="#a32a40"/>
<circle cx="495.00" cy="330.50" r="2.5" fill="#a32a40"/>
<circle cx="489.20" cy="334.20" r="2.5" fill="#a32a40"/>
<circle cx="492.30" cy="388.20" r="2.5" fill="#a32a40"/>
<circle cx="492.30" cy="419.20" r="2.5" fill="#a32a40"/>
<line x1="489.50" y1="336.20" x2="495.00" y2="336.20" stroke="#111" stroke-width="1.4"/>
<text x="407.40" y="447.40" font-size="8.6" text-anchor="middle" fill="#231f20" textLength="11.77" lengthAdjust="spacingAndGlyphs" >WT</text>
<text x="426.00" y="447.40" font-size="8.60" fill="#231f20" textLength="14.80" lengthAdjust="spacingAndGlyphs">Kiaa</text>
<text x="441.11" y="443.96" font-size="6.45" fill="#8a8a8a" stroke="none">-/-</text>
<text x="463.00" y="447.40" font-size="8.6" text-anchor="middle" fill="#231f20" textLength="11.77" lengthAdjust="spacingAndGlyphs" >WT</text>
<text x="482.90" y="447.40" font-size="8.60" fill="#231f20" textLength="14.80" lengthAdjust="spacingAndGlyphs">Kiaa</text>
<text x="498.01" y="443.96" font-size="6.45" fill="#8a8a8a" stroke="none">-/-</text>
<line x1="402.30" y1="453.00" x2="444.60" y2="453.00" stroke="#333" stroke-width="1.2"/>
<line x1="459.20" y1="453.00" x2="501.50" y2="453.00" stroke="#333" stroke-width="1.2"/>
<text x="423.90" y="465.60" font-size="8.5" text-anchor="middle" fill="#231f20" textLength="23.92" lengthAdjust="spacingAndGlyphs" >30,000</text>
<text x="480.20" y="465.60" font-size="8.5" text-anchor="middle" fill="#231f20" textLength="28.27" lengthAdjust="spacingAndGlyphs" >100,000</text>
<text x="0" y="0" font-size="9.9" text-anchor="middle" fill="#231f20" transform="translate(358.56,344.00) rotate(-90)">% donor cells in blood</text>
<text x="8.40" y="481.50" font-size="11.5" text-anchor="start" fill="#231f20" textLength="6.4" lengthAdjust="spacingAndGlyphs" stroke="none">F</text>
<line x1="32.80" y1="489.70" x2="32.80" y2="646.60" stroke="#1e1e1e" stroke-width="1.3"/>
<line x1="29.40" y1="646.00" x2="32.80" y2="646.00" stroke="#1e1e1e" stroke-width="1.1"/>
<text x="25.90" y="649.01" font-size="8.7" text-anchor="end" fill="#231f20" textLength="4.35" lengthAdjust="spacingAndGlyphs" >0</text>
<line x1="29.40" y1="620.47" x2="32.80" y2="620.47" stroke="#1e1e1e" stroke-width="1.1"/>
<text x="25.90" y="623.48" font-size="8.7" text-anchor="end" fill="#231f20" textLength="4.35" lengthAdjust="spacingAndGlyphs" >1</text>
<line x1="29.40" y1="594.93" x2="32.80" y2="594.93" stroke="#1e1e1e" stroke-width="1.1"/>
<text x="25.90" y="597.95" font-size="8.7" text-anchor="end" fill="#231f20" textLength="4.35" lengthAdjust="spacingAndGlyphs" >2</text>
<line x1="29.40" y1="569.40" x2="32.80" y2="569.40" stroke="#1e1e1e" stroke-width="1.1"/>
<text x="25.90" y="572.41" font-size="8.7" text-anchor="end" fill="#231f20" textLength="4.35" lengthAdjust="spacingAndGlyphs" >3</text>
<line x1="29.40" y1="543.87" x2="32.80" y2="543.87" stroke="#1e1e1e" stroke-width="1.1"/>
<text x="25.90" y="546.88" font-size="8.7" text-anchor="end" fill="#231f20" textLength="4.35" lengthAdjust="spacingAndGlyphs" >4</text>
<line x1="29.40" y1="518.33" x2="32.80" y2="518.33" stroke="#1e1e1e" stroke-width="1.1"/>
<text x="25.90" y="521.35" font-size="8.7" text-anchor="end" fill="#231f20" textLength="4.35" lengthAdjust="spacingAndGlyphs" >5</text>
<line x1="29.40" y1="492.80" x2="32.80" y2="492.80" stroke="#1e1e1e" stroke-width="1.1"/>
<text x="25.90" y="495.81" font-size="8.7" text-anchor="end" fill="#231f20" textLength="4.35" lengthAdjust="spacingAndGlyphs" >6</text>
<line x1="32.80" y1="646.00" x2="154.60" y2="646.00" stroke="#1e1e1e" stroke-width="1.3"/>
<line x1="48.80" y1="528.50" x2="80.80" y2="528.50" stroke="#1e1e1e" stroke-width="1.2"/>
<text x="64.20" y="523.60" font-size="8.4" text-anchor="middle" fill="#231f20" textLength="23.33" lengthAdjust="spacingAndGlyphs" >p&lt;0.02</text>
<line x1="101.60" y1="506.80" x2="133.50" y2="506.80" stroke="#1e1e1e" stroke-width="1.2"/>
<text x="117.30" y="502.00" font-size="8.4" text-anchor="middle" fill="#231f20" textLength="23.33" lengthAdjust="spacingAndGlyphs" >p=0.05</text>
<path d="M45.60 645.20L48.50 642.30L51.40 645.20L48.50 648.10Z" fill="#3f5f8c"/>
<path d="M48.60 644.20L51.50 641.30L54.40 644.20L51.50 647.10Z" fill="#3f5f8c"/>
<path d="M51.60 644.60L54.50 641.70L57.40 644.60L54.50 647.50Z" fill="#3f5f8c"/>
<path d="M54.10 643.30L57.00 640.40L59.90 643.30L57.00 646.20Z" fill="#3f5f8c"/>
<path d="M57.10 645.00L60.00 642.10L62.90 645.00L60.00 647.90Z" fill="#3f5f8c"/>
<path d="M60.10 645.60L63.00 642.70L65.90 645.60L63.00 648.50Z" fill="#3f5f8c"/>
<path d="M63.10 644.50L66.00 641.60L68.90 644.50L66.00 647.40Z" fill="#3f5f8c"/>
<path d="M65.60 643.00L68.50 640.10L71.40 643.00L68.50 645.90Z" fill="#3f5f8c"/>
<path d="M67.30 642.20L70.20 639.30L73.10 642.20L70.20 645.10Z" fill="#3f5f8c"/>
<line x1="54.30" y1="644.00" x2="59.60" y2="644.00" stroke="#111" stroke-width="1.4"/>
<circle cx="82.00" cy="561.50" r="2.4" fill="#a32a40"/>
<circle cx="81.70" cy="592.30" r="2.4" fill="#a32a40"/>
<circle cx="78.80" cy="605.40" r="2.4" fill="#a32a40"/>
<circle cx="83.70" cy="604.40" r="2.4" fill="#a32a40"/>
<circle cx="84.30" cy="625.10" r="2.4" fill="#a32a40"/>
<circle cx="81.90" cy="628.00" r="2.4" fill="#a32a40"/>
<circle cx="76.50" cy="644.80" r="2.4" fill="#a32a40"/>
<circle cx="80.00" cy="642.50" r="2.4" fill="#a32a40"/>
<circle cx="82.30" cy="641.60" r="2.4" fill="#a32a40"/>
<circle cx="84.50" cy="643.00" r="2.4" fill="#a32a40"/>
<circle cx="86.80" cy="644.80" r="2.4" fill="#a32a40"/>
<circle cx="79.00" cy="645.50" r="2.4" fill="#a32a40"/>
<circle cx="84.00" cy="645.50" r="2.4" fill="#a32a40"/>
<line x1="77.90" y1="623.70" x2="83.70" y2="623.70" stroke="#111" stroke-width="1.4"/>
<path d="M103.70 579.70L106.60 576.80L109.50 579.70L106.60 582.60Z" fill="#3f5f8c"/>
<path d="M103.70 590.80L106.60 587.90L109.50 590.80L106.60 593.70Z" fill="#3f5f8c"/>
<path d="M103.70 615.30L106.60 612.40L109.50 615.30L106.60 618.20Z" fill="#3f5f8c"/>
<path d="M103.70 642.80L106.60 639.90L109.50 642.80L106.60 645.70Z" fill="#3f5f8c"/>
<line x1="102.70" y1="607.00" x2="108.50" y2="607.00" stroke="#111" stroke-width="1.4"/>
<circle cx="127.70" cy="514.20" r="2.4" fill="#a32a40"/>
<circle cx="133.50" cy="517.00" r="2.4" fill="#a32a40"/>
<circle cx="130.50" cy="529.60" r="2.4" fill="#a32a40"/>
<circle cx="130.50" cy="538.20" r="2.4" fill="#a32a40"/>
<circle cx="130.40" cy="578.50" r="2.4" fill="#a32a40"/>
<circle cx="130.40" cy="589.70" r="2.4" fill="#a32a40"/>
<circle cx="130.40" cy="619.70" r="2.4" fill="#a32a40"/>
<line x1="127.20" y1="555.50" x2="133.50" y2="555.50" stroke="#111" stroke-width="1.4"/>
<text x="56.70" y="659.00" font-size="8.6" text-anchor="middle" fill="#231f20" textLength="11.77" lengthAdjust="spacingAndGlyphs" >WT</text>
<text x="70.20" y="659.00" font-size="8.60" fill="#231f20" textLength="14.80" lengthAdjust="spacingAndGlyphs">Kiaa</text>
<text x="85.31" y="655.56" font-size="6.45" fill="#8a8a8a" stroke="none">-/-</text>
<text x="105.00" y="659.00" font-size="8.6" text-anchor="middle" fill="#231f20" textLength="11.77" lengthAdjust="spacingAndGlyphs" >WT</text>
<text x="119.40" y="659.00" font-size="8.60" fill="#231f20" textLength="14.80" lengthAdjust="spacingAndGlyphs">Kiaa</text>
<text x="134.51" y="655.56" font-size="6.45" fill="#8a8a8a" stroke="none">-/-</text>
<line x1="47.00" y1="665.00" x2="90.40" y2="665.00" stroke="#333" stroke-width="1.2"/>
<line x1="97.00" y1="665.00" x2="139.00" y2="665.00" stroke="#333" stroke-width="1.2"/>
<text x="69.20" y="675.50" font-size="8.5" text-anchor="middle" fill="#231f20" textLength="23.92" lengthAdjust="spacingAndGlyphs" >30,000</text>
<text x="118.20" y="675.50" font-size="8.5" text-anchor="middle" fill="#231f20" textLength="28.27" lengthAdjust="spacingAndGlyphs" >100,000</text>
<text x="0" y="0" font-size="9.9" text-anchor="middle" fill="#231f20" transform="translate(16.16,568.20) rotate(-90)">% donor myeloid cells in blood</text>
<line x1="207.50" y1="489.20" x2="207.50" y2="646.40" stroke="#1e1e1e" stroke-width="1.3"/>
<line x1="204.10" y1="645.80" x2="207.50" y2="645.80" stroke="#1e1e1e" stroke-width="1.1"/>
<text x="200.60" y="648.81" font-size="8.7" text-anchor="end" fill="#231f20" textLength="4.35" lengthAdjust="spacingAndGlyphs" >0</text>
<line x1="204.10" y1="623.97" x2="207.50" y2="623.97" stroke="#1e1e1e" stroke-width="1.1"/>
<text x="200.60" y="626.99" font-size="8.7" text-anchor="end" fill="#231f20" textLength="4.35" lengthAdjust="spacingAndGlyphs" >5</text>
<line x1="204.10" y1="602.14" x2="207.50" y2="602.14" stroke="#1e1e1e" stroke-width="1.1"/>
<text x="200.60" y="605.16" font-size="8.7" text-anchor="end" fill="#231f20" textLength="8.71" lengthAdjust="spacingAndGlyphs" >10</text>
<line x1="204.10" y1="580.31" x2="207.50" y2="580.31" stroke="#1e1e1e" stroke-width="1.1"/>
<text x="200.60" y="583.33" font-size="8.7" text-anchor="end" fill="#231f20" textLength="8.71" lengthAdjust="spacingAndGlyphs" >15</text>
<line x1="204.10" y1="558.49" x2="207.50" y2="558.49" stroke="#1e1e1e" stroke-width="1.1"/>
<text x="200.60" y="561.50" font-size="8.7" text-anchor="end" fill="#231f20" textLength="8.71" lengthAdjust="spacingAndGlyphs" >20</text>
<line x1="204.10" y1="536.66" x2="207.50" y2="536.66" stroke="#1e1e1e" stroke-width="1.1"/>
<text x="200.60" y="539.67" font-size="8.7" text-anchor="end" fill="#231f20" textLength="8.71" lengthAdjust="spacingAndGlyphs" >25</text>
<line x1="204.10" y1="514.83" x2="207.50" y2="514.83" stroke="#1e1e1e" stroke-width="1.1"/>
<text x="200.60" y="517.84" font-size="8.7" text-anchor="end" fill="#231f20" textLength="8.71" lengthAdjust="spacingAndGlyphs" >30</text>
<line x1="204.10" y1="493.00" x2="207.50" y2="493.00" stroke="#1e1e1e" stroke-width="1.1"/>
<text x="200.60" y="496.01" font-size="8.7" text-anchor="end" fill="#231f20" textLength="8.71" lengthAdjust="spacingAndGlyphs" >35</text>
<line x1="207.50" y1="645.80" x2="327.30" y2="645.80" stroke="#1e1e1e" stroke-width="1.3"/>
<line x1="222.90" y1="526.20" x2="254.60" y2="526.20" stroke="#1e1e1e" stroke-width="1.2"/>
<text x="238.70" y="521.30" font-size="8.4" text-anchor="middle" fill="#231f20" textLength="23.33" lengthAdjust="spacingAndGlyphs" >p&lt;0.05</text>
<line x1="275.80" y1="504.60" x2="307.70" y2="504.60" stroke="#1e1e1e" stroke-width="1.2"/>
<text x="291.70" y="500.00" font-size="8.4" text-anchor="middle" fill="#231f20" textLength="23.33" lengthAdjust="spacingAndGlyphs" >p=0.05</text>
<path d="M227.90 614.40L230.80 611.50L233.70 614.40L230.80 617.30Z" fill="#3f5f8c"/>
<path d="M227.90 628.80L230.80 625.90L233.70 628.80L230.80 631.70Z" fill="#3f5f8c"/>
<path d="M233.60 638.80L236.50 635.90L239.40 638.80L236.50 641.70Z" fill="#3f5f8c"/>
<path d="M236.50 640.40L239.40 637.50L242.30 640.40L239.40 643.30Z" fill="#3f5f8c"/>
<path d="M224.10 641.70L227.00 638.80L229.90 641.70L227.00 644.60Z" fill="#3f5f8c"/>
<path d="M222.10 643.70L225.00 640.80L227.90 643.70L225.00 646.60Z" fill="#3f5f8c"/>
<path d="M220.60 645.60L223.50 642.70L226.40 645.60L223.50 648.50Z" fill="#3f5f8c"/>
<path d="M231.70 644.60L234.60 641.70L237.50 644.60L234.60 647.50Z" fill="#3f5f8c"/>
<path d="M225.60 642.70L228.50 639.80L231.40 642.70L228.50 645.60Z" fill="#3f5f8c"/>
<path d="M228.10 640.00L231.00 637.10L233.90 640.00L231.00 642.90Z" fill="#3f5f8c"/>
<line x1="227.90" y1="638.50" x2="234.20" y2="638.50" stroke="#111" stroke-width="1.4"/>
<circle cx="253.80" cy="567.30" r="2.4" fill="#a32a40"/>
<circle cx="253.80" cy="576.70" r="2.4" fill="#a32a40"/>
<circle cx="253.80" cy="597.90" r="2.4" fill="#a32a40"/>
<circle cx="253.80" cy="609.20" r="2.4" fill="#a32a40"/>
<circle cx="258.70" cy="617.30" r="2.4" fill="#a32a40"/>
<circle cx="253.80" cy="630.80" r="2.4" fill="#a32a40"/>
<circle cx="251.50" cy="633.00" r="2.4" fill="#a32a40"/>
<circle cx="256.70" cy="632.50" r="2.4" fill="#a32a40"/>
<circle cx="253.80" cy="637.00" r="2.4" fill="#a32a40"/>
<circle cx="258.70" cy="637.50" r="2.4" fill="#a32a40"/>
<circle cx="253.80" cy="642.30" r="2.4" fill="#a32a40"/>
<circle cx="258.70" cy="642.70" r="2.4" fill="#a32a40"/>
<line x1="251.00" y1="619.00" x2="257.70" y2="619.00" stroke="#111" stroke-width="1.4"/>
<path d="M275.90 628.80L278.80 625.90L281.70 628.80L278.80 631.70Z" fill="#3f5f8c"/>
<path d="M270.60 636.50L273.50 633.60L276.40 636.50L273.50 639.40Z" fill="#3f5f8c"/>
<path d="M281.30 635.60L284.20 632.70L287.10 635.60L284.20 638.50Z" fill="#3f5f8c"/>
<path d="M275.90 638.80L278.80 635.90L281.70 638.80L278.80 641.70Z" fill="#3f5f8c"/>
<line x1="274.60" y1="634.00" x2="280.80" y2="634.00" stroke="#111" stroke-width="1.4"/>
<circle cx="302.30" cy="517.90" r="2.4" fill="#a32a40"/>
<circle cx="302.30" cy="538.30" r="2.4" fill="#a32a40"/>
<circle cx="302.30" cy="564.20" r="2.4" fill="#a32a40"/>
<circle cx="302.30" cy="588.70" r="2.4" fill="#a32a40"/>
<circle cx="302.30" cy="618.50" r="2.4" fill="#a32a40"/>
<circle cx="302.30" cy="625.20" r="2.4" fill="#a32a40"/>
<circle cx="302.30" cy="631.50" r="2.4" fill="#a32a40"/>
<line x1="299.40" y1="583.50" x2="305.80" y2="583.50" stroke="#111" stroke-width="1.4"/>
<text x="230.40" y="659.00" font-size="8.6" text-anchor="middle" fill="#231f20" textLength="11.77" lengthAdjust="spacingAndGlyphs" >WT</text>
<text x="244.30" y="659.00" font-size="8.60" fill="#231f20" textLength="14.80" lengthAdjust="spacingAndGlyphs">Kiaa</text>
<text x="259.41" y="655.56" font-size="6.45" fill="#8a8a8a" stroke="none">-/-</text>
<text x="277.70" y="659.00" font-size="8.6" text-anchor="middle" fill="#231f20" textLength="11.77" lengthAdjust="spacingAndGlyphs" >WT</text>
<text x="291.80" y="659.00" font-size="8.60" fill="#231f20" textLength="14.80" lengthAdjust="spacingAndGlyphs">Kiaa</text>
<text x="306.91" y="655.56" font-size="6.45" fill="#8a8a8a" stroke="none">-/-</text>
<line x1="221.00" y1="665.00" x2="264.00" y2="665.00" stroke="#333" stroke-width="1.2"/>
<line x1="269.20" y1="665.00" x2="311.50" y2="665.00" stroke="#333" stroke-width="1.2"/>
<text x="242.50" y="675.50" font-size="8.5" text-anchor="middle" fill="#231f20" textLength="23.92" lengthAdjust="spacingAndGlyphs" >30,000</text>
<text x="290.80" y="675.50" font-size="8.5" text-anchor="middle" fill="#231f20" textLength="28.27" lengthAdjust="spacingAndGlyphs" >100,000</text>
<text x="0" y="0" font-size="9.8" text-anchor="middle" fill="#231f20" transform="translate(186.43,568.20) rotate(-90)">% donor T cells in blood</text>
<line x1="379.80" y1="489.20" x2="379.80" y2="646.60" stroke="#1e1e1e" stroke-width="1.3"/>
<line x1="376.40" y1="646.00" x2="379.80" y2="646.00" stroke="#1e1e1e" stroke-width="1.1"/>
<text x="372.90" y="649.01" font-size="8.7" text-anchor="end" fill="#231f20" textLength="4.35" lengthAdjust="spacingAndGlyphs" >0</text>
<line x1="376.40" y1="620.52" x2="379.80" y2="620.52" stroke="#1e1e1e" stroke-width="1.1"/>
<text x="372.90" y="623.53" font-size="8.7" text-anchor="end" fill="#231f20" textLength="8.71" lengthAdjust="spacingAndGlyphs" >10</text>
<line x1="376.40" y1="595.03" x2="379.80" y2="595.03" stroke="#1e1e1e" stroke-width="1.1"/>
<text x="372.90" y="598.05" font-size="8.7" text-anchor="end" fill="#231f20" textLength="8.71" lengthAdjust="spacingAndGlyphs" >20</text>
<line x1="376.40" y1="569.55" x2="379.80" y2="569.55" stroke="#1e1e1e" stroke-width="1.1"/>
<text x="372.90" y="572.56" font-size="8.7" text-anchor="end" fill="#231f20" textLength="8.71" lengthAdjust="spacingAndGlyphs" >30</text>
<line x1="376.40" y1="544.07" x2="379.80" y2="544.07" stroke="#1e1e1e" stroke-width="1.1"/>
<text x="372.90" y="547.08" font-size="8.7" text-anchor="end" fill="#231f20" textLength="8.71" lengthAdjust="spacingAndGlyphs" >40</text>
<line x1="376.40" y1="518.58" x2="379.80" y2="518.58" stroke="#1e1e1e" stroke-width="1.1"/>
<text x="372.90" y="521.60" font-size="8.7" text-anchor="end" fill="#231f20" textLength="8.71" lengthAdjust="spacingAndGlyphs" >50</text>
<line x1="376.40" y1="493.10" x2="379.80" y2="493.10" stroke="#1e1e1e" stroke-width="1.1"/>
<text x="372.90" y="496.11" font-size="8.7" text-anchor="end" fill="#231f20" textLength="8.71" lengthAdjust="spacingAndGlyphs" >60</text>
<line x1="379.80" y1="646.00" x2="499.20" y2="646.00" stroke="#1e1e1e" stroke-width="1.3"/>
<line x1="398.00" y1="516.00" x2="429.80" y2="516.00" stroke="#1e1e1e" stroke-width="1.2"/>
<text x="413.70" y="511.20" font-size="8.4" text-anchor="middle" fill="#231f20" textLength="23.33" lengthAdjust="spacingAndGlyphs" >p&lt;0.02</text>
<line x1="448.70" y1="508.50" x2="481.00" y2="508.50" stroke="#1e1e1e" stroke-width="1.2"/>
<text x="464.60" y="504.00" font-size="8.4" text-anchor="middle" fill="#231f20" textLength="23.33" lengthAdjust="spacingAndGlyphs" >p&lt;0.05</text>
<path d="M401.10 639.50L404.00 636.60L406.90 639.50L404.00 642.40Z" fill="#3f5f8c"/>
<path d="M404.10 638.00L407.00 635.10L409.90 638.00L407.00 640.90Z" fill="#3f5f8c"/>
<path d="M392.10 644.50L395.00 641.60L397.90 644.50L395.00 647.40Z" fill="#3f5f8c"/>
<path d="M395.60 645.00L398.50 642.10L401.40 645.00L398.50 647.90Z" fill="#3f5f8c"/>
<path d="M399.10 644.50L402.00 641.60L404.90 644.50L402.00 647.40Z" fill="#3f5f8c"/>
<path d="M402.60 645.00L405.50 642.10L408.40 645.00L405.50 647.90Z" fill="#3f5f8c"/>
<path d="M406.10 644.00L409.00 641.10L411.90 644.00L409.00 646.90Z" fill="#3f5f8c"/>
<path d="M409.10 645.00L412.00 642.10L414.90 645.00L412.00 647.90Z" fill="#3f5f8c"/>
<line x1="399.80" y1="643.00" x2="405.60" y2="643.00" stroke="#111" stroke-width="1.4"/>
<circle cx="426.90" cy="523.70" r="2.4" fill="#a32a40"/>
<circle cx="426.90" cy="551.50" r="2.4" fill="#a32a40"/>
<circle cx="426.90" cy="560.80" r="2.4" fill="#a32a40"/>
<circle cx="426.90" cy="588.70" r="2.4" fill="#a32a40"/>
<circle cx="426.90" cy="601.70" r="2.4" fill="#a32a40"/>
<circle cx="426.90" cy="627.10" r="2.4" fill="#a32a40"/>
<circle cx="426.90" cy="638.80" r="2.4" fill="#a32a40"/>
<circle cx="422.00" cy="643.50" r="2.4" fill="#a32a40"/>
<circle cx="425.00" cy="643.00" r="2.4" fill="#a32a40"/>
<circle cx="428.00" cy="642.50" r="2.4" fill="#a32a40"/>
<circle cx="431.00" cy="643.00" r="2.4" fill="#a32a40"/>
<circle cx="433.50" cy="643.50" r="2.4" fill="#a32a40"/>
<line x1="424.40" y1="609.40" x2="430.00" y2="609.40" stroke="#111" stroke-width="1.4"/>
<path d="M448.80 579.60L451.70 576.70L454.60 579.60L451.70 582.50Z" fill="#3f5f8c"/>
<path d="M451.70 617.10L454.60 614.20L457.50 617.10L454.60 620.00Z" fill="#3f5f8c"/>
<path d="M445.90 620.00L448.80 617.10L451.70 620.00L448.80 622.90Z" fill="#3f5f8c"/>
<path d="M448.80 643.50L451.70 640.60L454.60 643.50L451.70 646.40Z" fill="#3f5f8c"/>
<line x1="448.50" y1="614.20" x2="454.60" y2="614.20" stroke="#111" stroke-width="1.4"/>
<circle cx="474.70" cy="519.40" r="2.4" fill="#a32a40"/>
<circle cx="474.70" cy="522.90" r="2.4" fill="#a32a40"/>
<circle cx="477.60" cy="530.20" r="2.4" fill="#a32a40"/>
<circle cx="474.70" cy="533.60" r="2.4" fill="#a32a40"/>
<circle cx="474.70" cy="541.00" r="2.4" fill="#a32a40"/>
<circle cx="474.70" cy="604.60" r="2.4" fill="#a32a40"/>
<circle cx="474.70" cy="634.50" r="2.4" fill="#a32a40"/>
<line x1="471.50" y1="555.40" x2="477.60" y2="555.40" stroke="#111" stroke-width="1.4"/>
<text x="402.70" y="659.00" font-size="8.6" text-anchor="middle" fill="#231f20" textLength="11.77" lengthAdjust="spacingAndGlyphs" >WT</text>
<text x="416.20" y="659.00" font-size="8.60" fill="#231f20" textLength="14.80" lengthAdjust="spacingAndGlyphs">Kiaa</text>
<text x="431.31" y="655.56" font-size="6.45" fill="#8a8a8a" stroke="none">-/-</text>
<text x="450.80" y="659.00" font-size="8.6" text-anchor="middle" fill="#231f20" textLength="11.77" lengthAdjust="spacingAndGlyphs" >WT</text>
<text x="464.70" y="659.00" font-size="8.60" fill="#231f20" textLength="14.80" lengthAdjust="spacingAndGlyphs">Kiaa</text>
<text x="479.81" y="655.56" font-size="6.45" fill="#8a8a8a" stroke="none">-/-</text>
<line x1="394.00" y1="665.00" x2="436.30" y2="665.00" stroke="#333" stroke-width="1.2"/>
<line x1="441.80" y1="665.00" x2="484.00" y2="665.00" stroke="#333" stroke-width="1.2"/>
<text x="415.00" y="675.50" font-size="8.5" text-anchor="middle" fill="#231f20" textLength="23.92" lengthAdjust="spacingAndGlyphs" >30,000</text>
<text x="462.90" y="675.50" font-size="8.5" text-anchor="middle" fill="#231f20" textLength="28.27" lengthAdjust="spacingAndGlyphs" >100,000</text>
<text x="0" y="0" font-size="9.7" text-anchor="middle" fill="#231f20" transform="translate(357.49,567.80) rotate(-90)">% donor B cells in blood</text>
<rect x="0" y="0" width="520" height="1.8" fill="#4d4d4d"/>
<rect x="0" y="0" width="1.9" height="685" fill="#4d4d4d"/>
<rect x="518.1" y="0" width="1.9" height="685" fill="#4d4d4d"/>
<rect x="0" y="683.6" width="520" height="1.4" fill="#151515"/>
</svg></body></html>
